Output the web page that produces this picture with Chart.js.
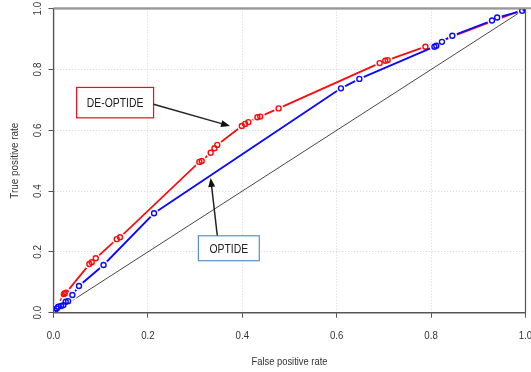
<!DOCTYPE html>
<html>
<head>
<meta charset="utf-8">
<script src="https://cdn.jsdelivr.net/npm/chart.js@4"></script>
<style>
  body { margin: 0; background: #fff; }
  canvas { display: block; }
</style>
</head>
<body>
<canvas id="RocChart" width="531" height="372"></canvas>
<script>
// ROC points
const deOptideFpr = [0, 0.007, 0.0095, 0.022, 0.024, 0.027, 0.076, 0.081, 0.0895, 0.134, 0.141,
    0.309, 0.314, 0.333, 0.341, 0.347, 0.399, 0.406, 0.413, 0.432, 0.438, 0.477,
    0.691, 0.703, 0.708, 0.788, 1];
const deOptideTpr = [0, 0.022, 0.025, 0.061, 0.064, 0.066, 0.160, 0.166, 0.179, 0.242, 0.248,
    0.496, 0.499, 0.526, 0.541, 0.552, 0.614, 0.621, 0.627, 0.643, 0.645, 0.672,
    0.821, 0.829, 0.831, 0.875, 1];

const optideFpr = [0, 0.003, 0.007, 0.010, 0.016, 0.021, 0.026, 0.031, 0.040, 0.054, 0.106,
    0.213, 0.609, 0.648, 0.807, 0.811, 0.823, 0.845, 0.929, 0.940, 0.993, 1];
const optideTpr = [0, 0.006, 0.014, 0.020, 0.022, 0.025, 0.036, 0.038, 0.058, 0.088, 0.157,
    0.327, 0.738, 0.769, 0.875, 0.878, 0.891, 0.911, 0.961, 0.971, 0.993, 1];

const chanceLine = [0, 1];
const axisTicks = [0, 0.2, 0.4, 0.6, 0.8, 1.0];

const toPoints = (xs, ys) => xs.map((x, i) => ({ x: x, y: ys[i] }));

const red = '#ff0a0a';
const blue = '#0a0aff';
const labelFont = "'Liberation Sans', Arial, sans-serif";

function lineSet(data, color, width, order) {
    return { data: data, showLine: true, borderColor: color, borderWidth: width, pointRadius: 0, tension: 0, order: order };
}
function haloSet(data, order) {
    return { data: data, showLine: false, pointRadius: 4.8, pointBorderWidth: 0, pointBackgroundColor: '#fff', order: order };
}
function markSet(data, color, order) {
    return { data: data, showLine: false, pointRadius: 2.5, pointBorderWidth: 1.4, pointBorderColor: color, pointBackgroundColor: 'rgba(0,0,0,0)', order: order };
}

const deOptidePoints = toPoints(deOptideFpr, deOptideTpr);
const optidePoints = toPoints(optideFpr, optideTpr);

// narrow text, like the squeezed labels of the picture
function narrowText(ctx, text, cx, cy, squeeze, angle) {
    ctx.save();
    ctx.translate(cx, cy);
    if (angle) ctx.rotate(angle);
    ctx.scale(squeeze, 1);
    ctx.fillText(text, 0, 0);
    ctx.restore();
}

// axis box, tick labels, axis titles and the two callouts
const decorations = {
    id: 'decorations',
    afterDraw(chart) {
        const { ctx, chartArea: a, scales: { x, y } } = chart;
        ctx.save();
        ctx.strokeStyle = '#555';
        ctx.lineWidth = 1.2;
        ctx.strokeRect(a.left, a.top, a.right - a.left, a.bottom - a.top);
        ctx.strokeStyle = '#999';
        ctx.lineWidth = 2;
        ctx.beginPath();
        ctx.moveTo(a.left, a.top - 0.5);
        ctx.lineTo(chart.width, a.top - 0.5);
        ctx.stroke();

        ctx.fillStyle = '#333';
        ctx.font = '11px ' + labelFont;
        ctx.textAlign = 'center';
        ctx.textBaseline = 'middle';
        axisTicks.forEach(function (v) {
            narrowText(ctx, v.toFixed(1), a.left - 16, y.getPixelForValue(v), 0.9, -Math.PI / 2);
        });
        axisTicks.forEach(function (v) {
            narrowText(ctx, v.toFixed(1), x.getPixelForValue(v), a.bottom + 23, 0.88, 0);
        });
        narrowText(ctx, 'False positive rate', (a.left + a.right) / 2, 362, 0.85, 0);
        narrowText(ctx, 'True positive rate', 15, (a.top + a.bottom) / 2, 0.9, -Math.PI / 2);

        function callout(text, x0, y0, x1, y1, border) {
            const l = x.getPixelForValue(x0), r = x.getPixelForValue(x1);
            const t = y.getPixelForValue(y0), b = y.getPixelForValue(y1);
            ctx.fillStyle = '#fff';
            ctx.fillRect(l, t, r - l, b - t);
            ctx.strokeStyle = border;
            ctx.lineWidth = 1.2;
            ctx.strokeRect(l, t, r - l, b - t);
            ctx.fillStyle = '#222';
            ctx.font = '13px ' + labelFont;
            narrowText(ctx, text, (l + r) / 2, (t + b) / 2 + 1, 0.8, 0);
        }
        function arrow(x0, y0, x1, y1) {
            const sx = x.getPixelForValue(x0), sy = y.getPixelForValue(y0);
            const ex = x.getPixelForValue(x1), ey = y.getPixelForValue(y1);
            const ang = Math.atan2(ey - sy, ex - sx);
            ctx.strokeStyle = '#222';
            ctx.fillStyle = '#111';
            ctx.lineWidth = 1.5;
            ctx.beginPath();
            ctx.moveTo(sx, sy);
            ctx.lineTo(ex - 7 * Math.cos(ang), ey - 7 * Math.sin(ang));
            ctx.stroke();
            ctx.beginPath();
            ctx.moveTo(ex, ey);
            ctx.lineTo(ex - 9 * Math.cos(ang) + 3.5 * Math.sin(ang), ey - 9 * Math.sin(ang) - 3.5 * Math.cos(ang));
            ctx.lineTo(ex - 9 * Math.cos(ang) - 3.5 * Math.sin(ang), ey - 9 * Math.sin(ang) + 3.5 * Math.cos(ang));
            ctx.closePath();
            ctx.fill();
        }

        callout('DE-OPTIDE', 0.049, 0.741, 0.212, 0.641, '#e8101a');
        arrow(0.212, 0.686, 0.374, 0.614);
        callout('OPTIDE', 0.307, 0.253, 0.436, 0.171, '#5b8fc7');
        arrow(0.347, 0.254, 0.333, 0.443);
        ctx.restore();
    }
};

const ctx = document.getElementById('RocChart');
const RocChart = new Chart(ctx, {
    type: 'scatter',
    data: {
        datasets: [
            lineSet(toPoints(chanceLine, chanceLine), '#333', 0.9, 10),
            lineSet(deOptidePoints, red, 1.8, 9),
            haloSet(deOptidePoints, 8),
            markSet(deOptidePoints, red, 7),
            lineSet(optidePoints, blue, 1.8, 6),
            haloSet(optidePoints, 5),
            markSet(optidePoints, blue, 4)
        ]
    },
    options: {
        responsive: false,
        animation: false,
        layout: { padding: { left: 0, right: 5.5, top: 8.7, bottom: 0 } },
        plugins: {
            legend: { display: false },
            tooltip: { enabled: false }
        },
        scales: {
            x: {
                type: 'linear',
                min: 0,
                max: 1,
                afterFit: function (scale) {
                    scale.height = 59.3;
                    scale.paddingLeft = 0;
                    scale.paddingRight = 0;
                },
                afterBuildTicks: function (scale) { scale.ticks = axisTicks.map(v => ({ value: v })); },
                ticks: { display: false },
                grid: { color: '#d4d4d4', lineWidth: 1, tickLength: 5, tickColor: '#555', tickWidth: 1 },
                border: { display: true, color: '#555', width: 1.2, dash: [1, 2] }
            },
            y: {
                type: 'linear',
                min: 0,
                max: 1,
                afterFit: function (scale) {
                    scale.width = 53.5;
                    scale.paddingTop = 0;
                    scale.paddingBottom = 0;
                },
                afterBuildTicks: function (scale) { scale.ticks = axisTicks.map(v => ({ value: v })); },
                ticks: { display: false },
                grid: { color: '#d4d4d4', lineWidth: 1, tickLength: 5, tickColor: '#555', tickWidth: 1 },
                border: { display: true, color: '#555', width: 1.2, dash: [1, 2] }
            }
        }
    },
    plugins: [decorations]
});
</script>
</body>
</html>
